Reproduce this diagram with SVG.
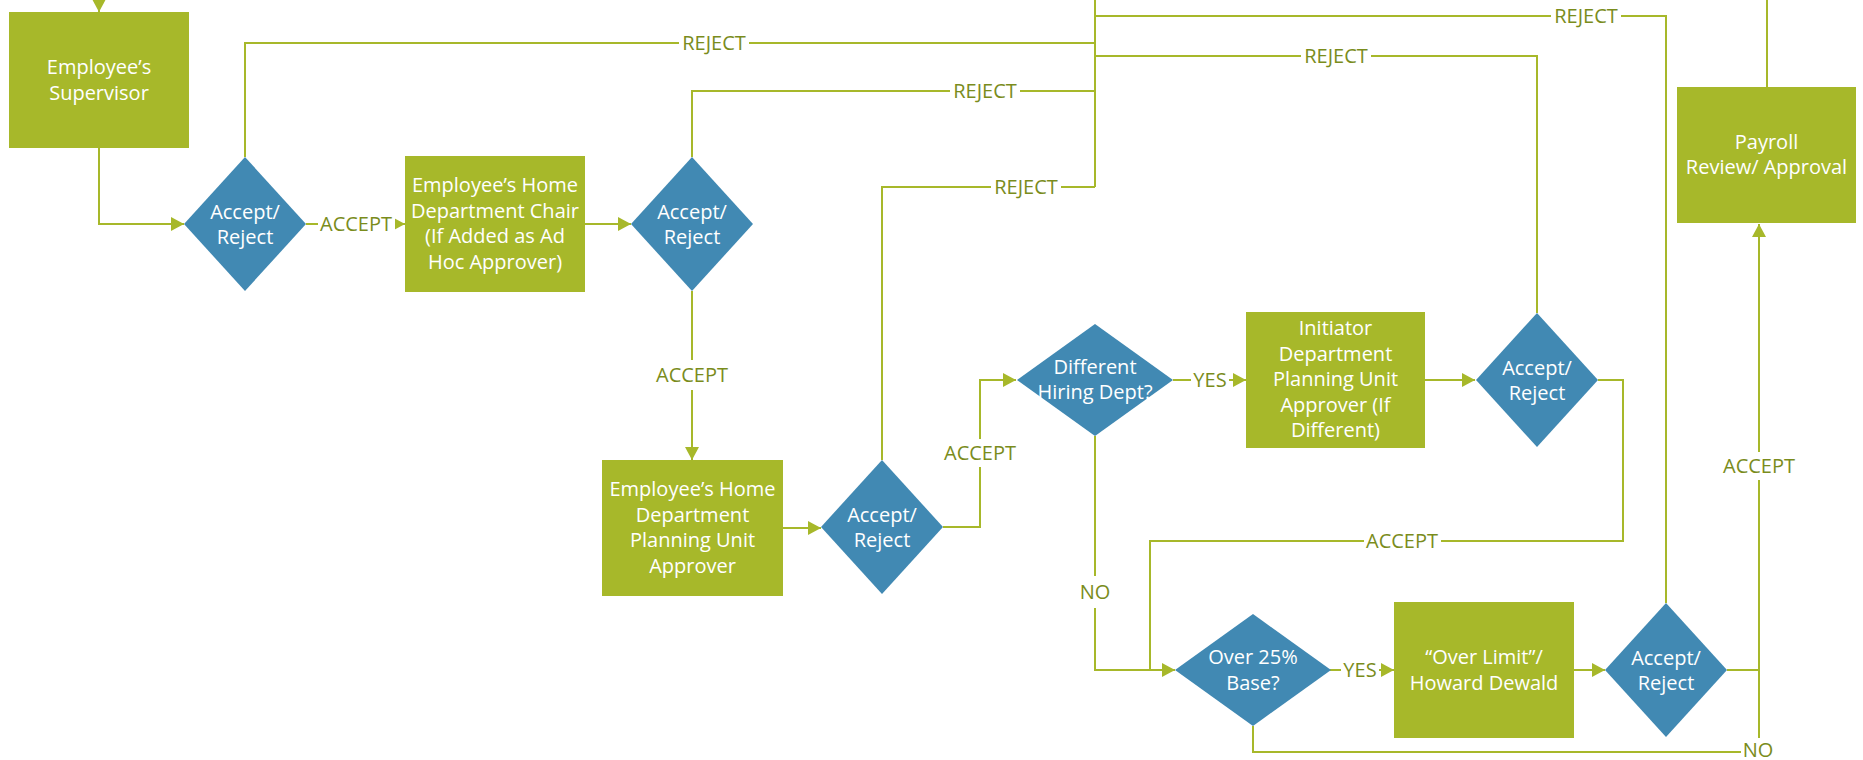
<svg xmlns="http://www.w3.org/2000/svg" width="1863" height="760" viewBox="0 0 1863 760">
<style>
.box{fill:#A7B82A;}
.dia{fill:#4189B3;}
.nt{font-family:"Open Sans","Noto Sans","Liberation Sans",sans-serif;font-size:20px;fill:#ffffff;text-anchor:middle;}
.ln{fill:none;stroke:#A7B82A;stroke-width:2;}
.lb{font-family:"Open Sans","Noto Sans","Liberation Sans",sans-serif;font-size:20px;fill:#7A8C1C;text-anchor:middle;}
.bg{fill:#ffffff;}
</style>
<defs>
<marker id="ah" markerUnits="userSpaceOnUse" markerWidth="14" markerHeight="14" refX="13" refY="7" orient="auto" viewBox="0 0 14 14">
<path d="M0,0 L13,7 L0,14 z" fill="#A7B82A"/>
</marker>
</defs>
<rect width="1863" height="760" fill="#ffffff"/>
<g id="connectors">
<path class="ln" d="M99,0 V12" marker-end="url(#ah)"/>
<path class="ln" d="M99,148 V224 H184" marker-end="url(#ah)"/>
<path class="ln" d="M306,224 H405" marker-end="url(#ah)"/>
<path class="ln" d="M585,224 H631" marker-end="url(#ah)"/>
<path class="ln" d="M245,157 V43 H1095"/>
<path class="ln" d="M692,157 V91 H1095"/>
<path class="ln" d="M692,291 V460" marker-end="url(#ah)"/>
<path class="ln" d="M783,528 H821" marker-end="url(#ah)"/>
<path class="ln" d="M882,460 V187 H1095"/>
<path class="ln" d="M1095,187 V0"/>
<path class="ln" d="M943,527 H980 V380 H1016" marker-end="url(#ah)"/>
<path class="ln" d="M1173,380 H1246" marker-end="url(#ah)"/>
<path class="ln" d="M1425,380 H1475" marker-end="url(#ah)"/>
<path class="ln" d="M1537,313 V56 H1095"/>
<path class="ln" d="M1666,603 V16 H1095"/>
<path class="ln" d="M1598,380 H1623 V541 H1150 V670"/>
<path class="ln" d="M1095,436 V670 H1175" marker-end="url(#ah)"/>
<path class="ln" d="M1330,670 H1394" marker-end="url(#ah)"/>
<path class="ln" d="M1574,670 H1605" marker-end="url(#ah)"/>
<path class="ln" d="M1727,670 H1759 V224" marker-end="url(#ah)"/>
<path class="ln" d="M1253,726 V752 H1759 V670"/>
<path class="ln" d="M1767,87 V0"/>
<g id="labels">
<rect class="bg" x="679" y="30" width="70" height="26"/><text class="lb" x="714" y="50">REJECT</text>
<rect class="bg" x="950" y="78" width="70" height="26"/><text class="lb" x="985" y="98">REJECT</text>
<rect class="bg" x="991" y="174" width="70" height="26"/><text class="lb" x="1026" y="194">REJECT</text>
<rect class="bg" x="1301" y="43" width="70" height="26"/><text class="lb" x="1336" y="63">REJECT</text>
<rect class="bg" x="1551" y="3" width="70" height="26"/><text class="lb" x="1586" y="23">REJECT</text>
<rect class="bg" x="318" y="211" width="77" height="26"/><text class="lb" x="356" y="231">ACCEPT</text>
<rect class="bg" x="654" y="360" width="77" height="30"/><text class="lb" x="692" y="382">ACCEPT</text>
<rect class="bg" x="942" y="439" width="77" height="28"/><text class="lb" x="980" y="460">ACCEPT</text>
<rect class="bg" x="1191" y="367" width="38" height="26"/><text class="lb" x="1210" y="387">YES</text>
<rect class="bg" x="1078" y="576" width="34" height="32"/><text class="lb" x="1095" y="599">NO</text>
<rect class="bg" x="1364" y="528" width="77" height="26"/><text class="lb" x="1402" y="548">ACCEPT</text>
<rect class="bg" x="1341" y="657" width="38" height="26"/><text class="lb" x="1360" y="677">YES</text>
<rect class="bg" x="1721" y="452" width="77" height="28"/><text class="lb" x="1759" y="473">ACCEPT</text>
<rect class="bg" x="1741" y="738" width="34" height="22"/><text class="lb" x="1758" y="757">NO</text>
</g>
</g>
<g id="supervisor">
<rect class="box" x="9" y="12" width="180" height="136"/>
<text class="nt" x="99" y="74"><tspan x="99">Employee’s</tspan><tspan x="99" dy="25.5">Supervisor</tspan></text>
</g>
<g id="decision1">
<polygon class="dia" points="245,157 306,224 245,291 184,224"/>
<text class="nt" x="245" y="219"><tspan x="245">Accept/</tspan><tspan x="245" dy="24.5">Reject</tspan></text>
</g>
<g id="home-chair">
<rect class="box" x="405" y="156" width="180" height="136"/>
<text class="nt" x="495" y="192"><tspan x="495">Employee’s Home</tspan><tspan x="495" dy="25.5">Department Chair</tspan><tspan x="495" dy="25.5">(If Added as Ad</tspan><tspan x="495" dy="25.5">Hoc Approver)</tspan></text>
</g>
<g id="decision2">
<polygon class="dia" points="692,157 753,224 692,291 631,224"/>
<text class="nt" x="692" y="219"><tspan x="692">Accept/</tspan><tspan x="692" dy="24.5">Reject</tspan></text>
</g>
<g id="home-planning">
<rect class="box" x="602" y="460" width="181" height="136"/>
<text class="nt" x="692.5" y="496"><tspan x="692.5">Employee’s Home</tspan><tspan x="692.5" dy="25.5">Department</tspan><tspan x="692.5" dy="25.5">Planning Unit</tspan><tspan x="692.5" dy="25.5">Approver</tspan></text>
</g>
<g id="decision3">
<polygon class="dia" points="882,460 943,527 882,594 821,527"/>
<text class="nt" x="882" y="522"><tspan x="882">Accept/</tspan><tspan x="882" dy="24.5">Reject</tspan></text>
</g>
<g id="different-dept">
<polygon class="dia" points="1095,324 1173,380 1095,436 1017,380"/>
<text class="nt" x="1095" y="374"><tspan x="1095">Different</tspan><tspan x="1095" dy="25">Hiring Dept?</tspan></text>
</g>
<g id="initiator">
<rect class="box" x="1246" y="312" width="179" height="136"/>
<text class="nt" x="1335.5" y="335"><tspan x="1335.5">Initiator</tspan><tspan x="1335.5" dy="25.5">Department</tspan><tspan x="1335.5" dy="25.5">Planning Unit</tspan><tspan x="1335.5" dy="25.5">Approver (If</tspan><tspan x="1335.5" dy="25.5">Different)</tspan></text>
</g>
<g id="decision4">
<polygon class="dia" points="1537,313 1598,380 1537,447 1476,380"/>
<text class="nt" x="1537" y="375"><tspan x="1537">Accept/</tspan><tspan x="1537" dy="24.5">Reject</tspan></text>
</g>
<g id="over25">
<polygon class="dia" points="1253,614 1331,670 1253,726 1175,670"/>
<text class="nt" x="1253" y="664"><tspan x="1253">Over 25%</tspan><tspan x="1253" dy="26">Base?</tspan></text>
</g>
<g id="over-limit">
<rect class="box" x="1394" y="602" width="180" height="136"/>
<text class="nt" x="1484" y="664"><tspan x="1484">“Over Limit”/</tspan><tspan x="1484" dy="26">Howard Dewald</tspan></text>
</g>
<g id="decision5">
<polygon class="dia" points="1666,603 1727,670 1666,737 1605,670"/>
<text class="nt" x="1666" y="665"><tspan x="1666">Accept/</tspan><tspan x="1666" dy="24.5">Reject</tspan></text>
</g>
<g id="payroll">
<rect class="box" x="1677" y="87" width="179" height="136"/>
<text class="nt" x="1766.5" y="149"><tspan x="1766.5">Payroll</tspan><tspan x="1766.5" dy="25">Review/ Approval</tspan></text>
</g>
</svg>
